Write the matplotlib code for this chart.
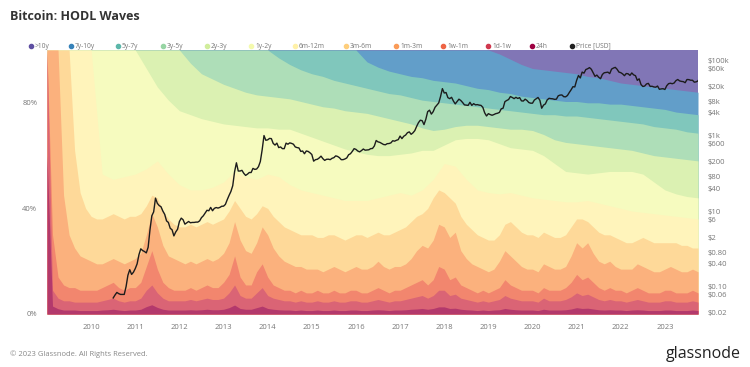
import matplotlib
matplotlib.use("Agg")
import matplotlib.pyplot as plt
import numpy as np

# ---------------- data ----------------
BANDS = ["24h", "1d-1w", "1w-1m", "1m-3m", "3m-6m", "6m-12m",
         "1y-2y", "2y-3y", "3y-5y", "5y-7y", "7y-10y", ">10y"]

# fine grid (every 1.5 months) for the young, spiky bands
T_FINE = 2009.0 + 0.125 * np.arange(119)
# quarterly grid for the older, smoother bands
T_QTR = 2009.0 + 0.25 * np.arange(60)

# cumulative share (%) at the top of each band
TOP_24H = [60, 3, 2, 1.5, 1.5, 1.5, 1.3, 1.3,
           1.3, 1.3, 1.5, 1.6, 1.8, 1.5, 1.3, 1.5,
           1.5, 1.8, 2.8, 3.5, 2.5, 1.8, 1.5, 1.5,
           1.5, 1.5, 1.6, 1.5, 1.6, 1.8, 1.6, 1.6,
           1.8, 2.4, 3.4, 2.1, 1.8, 1.8, 2.4, 3.0,
           2.1, 1.8, 1.6, 1.5, 1.5, 1.3, 1.5, 1.3,
           1.3, 1.5, 1.3, 1.3, 1.5, 1.3, 1.3, 1.5,
           1.5, 1.3, 1.3, 1.5, 1.6, 1.5, 1.3, 1.5,
           1.5, 1.6, 1.8, 1.9, 2.1, 1.8, 2.1, 2.7,
           2.7, 2.1, 2.2, 1.8, 1.6, 1.5, 1.3, 1.5,
           1.3, 1.5, 1.6, 2.1, 1.8, 1.6, 1.5, 1.5,
           1.5, 1.3, 1.8, 1.5, 1.5, 1.5, 1.6, 1.9,
           2.4, 2.1, 2.2, 1.9, 1.6, 1.5, 1.6, 1.5,
           1.5, 1.3, 1.5, 1.6, 1.5, 1.3, 1.3, 1.3,
           1.5, 1.5, 1.3, 1.3, 1.3, 1.5, 1.3]

TOP_1D_1W = [100, 9, 6, 5, 5, 4.5, 4.5, 4.5,
             4.5, 4.5, 5, 5.5, 6, 5, 4.5, 5,
             5, 6, 9, 11, 8, 6, 5, 5,
             5, 5, 5.5, 5, 5.5, 6, 5.5, 5.5,
             6, 8, 11, 7, 6, 6, 8, 10,
             7, 6, 5.5, 5, 5, 4.5, 5, 4.5,
             4.5, 5, 4.5, 4.5, 5, 4.5, 4.5, 5,
             5, 4.5, 4.5, 5, 5.5, 5, 4.5, 5,
             5, 5.5, 6, 6.5, 7, 6, 7, 9,
             9, 7, 7.5, 6, 5.5, 5, 4.5, 5,
             4.5, 5, 5.5, 7, 6, 5.5, 5, 5,
             5, 4.5, 6, 5, 5, 5, 5.5, 6.5,
             8, 7, 7.5, 6.5, 5.5, 5, 5.5, 5,
             5, 4.5, 5, 5.5, 5, 4.5, 4.5, 4.5,
             5, 5, 4.5, 4.5, 4.5, 5, 4.5]

TOP_1W_1M = [100, 30, 14, 11, 10, 10, 9, 9,
             9, 9, 10, 11, 12, 10, 9, 10,
             10, 12, 18, 24, 17, 12, 10, 9,
             9, 9, 10, 9, 10, 11, 10, 10,
             12, 15, 22, 14, 11, 11, 16, 19,
             14, 11, 10, 9, 9, 8, 9, 8,
             8, 9, 8, 8, 9, 8, 8, 9,
             9, 8, 8, 9, 10, 9, 8, 9,
             9, 10, 11, 12, 13, 11, 13, 18,
             17, 13, 14, 11, 10, 9, 8, 9,
             8, 9, 10, 13, 11, 10, 9, 9,
             9, 8, 10, 9, 9, 9, 10, 12,
             15, 13, 14, 12, 10, 9, 10, 9,
             9, 8, 9, 10, 9, 8, 8, 8,
             9, 9, 8, 8, 8, 9, 8]

TOP_1M_3M = [100, 100, 100, 45, 30, 25, 22, 21,
             20, 19, 19, 20, 21, 20, 19, 20,
             21, 23, 30, 38, 33, 26, 22, 21,
             20, 19, 20, 19, 20, 21, 20, 21,
             23, 27, 35, 28, 24, 23, 27, 33,
             30, 25, 22, 20, 19, 18, 18, 17,
             17, 17, 16, 17, 18, 17, 16, 17,
             18, 17, 17, 18, 20, 18, 17, 18,
             18, 19, 21, 24, 26, 25, 28, 34,
             33, 29, 31, 24, 21, 19, 18, 17,
             16, 17, 20, 24, 22, 20, 18, 17,
             17, 16, 19, 18, 17, 17, 18, 22,
             27, 25, 27, 23, 20, 19, 20, 18,
             17, 17, 17, 19, 18, 17, 16, 16,
             17, 18, 17, 16, 16, 17, 16]

TOP_3M_6M = [100, 100, 100, 100, 100, 62, 46, 40,
             37, 36, 36, 37, 38, 37, 36, 37,
             37, 38, 41, 45, 44, 39, 36, 34,
             33, 33, 34, 33, 34, 35, 34, 35,
             36, 39, 43, 40, 37, 36, 38, 41,
             40, 37, 35, 33, 32, 31, 30, 30,
             30, 29, 29, 30, 30, 29, 28, 29,
             30, 30, 29, 30, 31, 30, 30, 31,
             32, 33, 35, 37, 38, 40, 44, 47,
             46, 44, 42, 37, 34, 32, 30, 29,
             28, 28, 30, 34, 35, 33, 31, 30,
             30, 29, 31, 30, 29, 29, 30, 33,
             36, 36, 35, 33, 31, 30, 30, 29,
             28, 27, 27, 28, 29, 28, 27, 27,
             27, 27, 27, 26, 26, 25, 25]

TOP_6M_12M = [100, 100, 100, 100,
              100, 53, 51, 52,
              53, 55, 58, 53,
              49, 47, 47, 48,
              50, 54, 52, 51,
              53, 52, 49, 47,
              46, 45, 44, 43,
              43, 43, 44, 45,
              46, 45, 47, 51,
              57, 56, 51, 47,
              46, 45.5, 46, 45,
              44, 43.5, 43, 42.5,
              42.5, 43, 42, 41,
              40, 39, 38.5, 38,
              37.5, 37, 36.5, 36]

TOP_1Y_2Y = [100, 100, 100, 100,
             100, 100, 100, 100,
             100, 93, 86, 81,
             77, 75.5, 74, 73,
             72, 71.5, 71, 70.5,
             70.5, 70, 70, 68.5,
             67, 65.5, 64, 62.5,
             61.5, 60.5, 60, 60,
             60.5, 61, 62, 62,
             64, 66, 66.5, 66.5,
             66, 64.5, 63, 62.5,
             62, 60, 57, 54,
             53.5, 53, 53.5, 54,
             54, 54, 53, 50,
             47, 45.5, 44.5, 44]

TOP_2Y_3Y = [100] * 12 + [
             100, 95, 91, 89,
             87, 85.5, 84, 83,
             82.5, 82, 81.5, 80.5,
             79.5, 78.5, 78, 77,
             76.5, 76, 75, 74,
             73, 72, 70.5, 69.5,
             70, 71, 71.5, 71.5,
             71, 70.5, 70, 70,
             69.5, 68, 66, 65,
             64.5, 64, 63.5, 63,
             62.5, 62, 61, 60,
             59.5, 59, 58.5, 58]

TOP_3Y_5Y = [100] * 20 + [
             100, 97, 94.5, 92.5,
             91, 90, 88.5, 87.5,
             86.5, 85.5, 84.5, 83.5,
             83, 82, 81, 80.5,
             80, 79.5, 79, 78.5,
             78, 77.5, 77, 76.5,
             76, 75.5, 75.5, 75,
             75, 74.5, 74, 73.5,
             73, 72.5, 72, 71,
             70.5, 70, 69, 68.5]

TOP_5Y_7Y = [100] * 28 + [
             100, 95.5, 93.5, 92,
             91, 90, 89.5, 88.5,
             88, 87.5, 86.5, 85.5,
             85, 84, 83.5, 82.5,
             82, 81.5, 81, 80.5,
             80.5, 80, 80, 79.5,
             79.5, 79, 78.5, 78,
             77.5, 76.5, 76, 75.5]

TOP_7Y_10Y = [100] * 40 + [
              100, 98.5, 96.5, 94.5,
              93, 92.5, 92, 91.5,
              91, 90, 89.5, 88.5,
              87.5, 87, 86.5, 86,
              85.5, 85, 84.5, 84]

# BTC price (USD), twice a month, Jul 2010 .. Oct 2023
PRICE_T = 2010.5 + np.arange(320) / 24.0
PRICE = [
    0.05, 0.06, 0.07, 0.065, 0.062, 0.062, 0.062, 0.10, 0.20, 0.28, 0.21, 0.24,
    0.30, 0.40, 0.70, 1.0, 0.90, 0.85, 0.78, 1.1, 3.2, 7.5, 9.5, 22,
    16, 14, 13, 10, 8.2, 5.5, 5.0, 3.5, 3.2, 2.2, 2.8, 3.3,
    5.3, 6.5, 5.9, 4.5, 4.9, 5.3, 4.9, 5.0, 5.0, 5.1, 5.1, 5.5,
    6.7, 7.5, 8.9, 10.5, 10.2, 12.5, 10.2, 11.8, 12.4, 12.0, 12.5, 13.4,
    13.5, 15, 20, 26, 33, 47, 110, 190, 115, 115, 120, 100,
    88, 95, 105, 105, 135, 127, 130, 150, 205, 420, 1000, 750,
    770, 840, 830, 620, 560, 630, 480, 500, 450, 450, 630, 590,
    640, 620, 590, 500, 480, 470, 380, 390, 330, 390, 380, 350,
    315, 210, 230, 235, 255, 285, 245, 220, 235, 237, 230, 250,
    260, 290, 280, 260, 230, 230, 240, 255, 310, 330, 380, 450,
    430, 390, 370, 400, 440, 410, 415, 420, 450, 455, 530, 740,
    680, 660, 620, 580, 570, 610, 615, 640, 730, 710, 750, 780,
    970, 830, 960, 1030, 1190, 1250, 1080, 1180, 1350, 1750, 2200, 2550,
    2480, 1950, 2700, 4300, 4700, 3700, 4300, 5600, 6400, 7300, 10800, 17500,
    13400, 13800, 10100, 9500, 10300, 8200, 6900, 8000, 9200, 8500, 7500, 6500,
    6400, 6300, 7600, 6300, 7000, 6500, 6600, 6400, 6300, 5600, 4000, 3300,
    3800, 3600, 3450, 3600, 3800, 3900, 4100, 5100, 5300, 7900, 8500, 9000,
    10800, 10200, 9500, 10300, 9600, 10100, 8300, 8200, 9200, 8500, 7500, 7200,
    7200, 8700, 9400, 10200, 8600, 5300, 6400, 6900, 8800, 9700, 9500, 9400,
    9100, 9200, 11300, 11800, 11900, 10700, 10600, 11500, 13800, 16300, 19700, 19400,
    29000, 39000, 33500, 48000, 45000, 56000, 58800, 63000, 57000, 46000, 37000, 40000,
    35000, 32000, 41500, 46000, 47000, 47800, 43800, 57500, 61300, 64000, 57000, 48000,
    46300, 43000, 38500, 44000, 43200, 39200, 45500, 40500, 38500, 29000, 31800, 22500,
    19900, 20500, 23300, 24100, 20000, 20200, 19400, 19100, 20500, 16800, 17200, 17400,
    16600, 20900, 23700, 24300, 23600, 24600, 28500, 30500, 28000, 27200, 26800, 25100,
    30500, 30300, 29200, 29200, 25900, 26500, 28000, 34500]

PRICE_TICKS = [100000, 60000, 20000, 8000, 4000, 1000, 600, 200, 80, 40,
               10, 6, 2, 0.8, 0.4, 0.1, 0.06, 0.02]
PRICE_LABELS = ["$100k", "$60k", "$20k", "$8k", "$4k", "$1k", "$600", "$200",
                "$80", "$40", "$10", "$6", "$2", "$0.80", "$0.40", "$0.10",
                "$0.06", "$0.02"]
PCT_TICKS = [0, 40, 80]
PCT_LABELS = ["0%", "40%", "80%"]
YEARS = list(range(2010, 2024))

# ---------------- style ----------------
plt.rcParams["font.family"] = ["Open Sans", "DejaVu Sans"]
base = plt.cm.Spectral(np.linspace(0, 1, 12))[:, :3]
fill_cols = base * 0.78 + 0.22          # softened, opaque
grey = "#777777"

W, H = 750, 367
fig = plt.figure(figsize=(W / 100, H / 100), dpi=100)
ax = fig.add_axes([47 / W, (H - 314) / H, 651 / W, 264 / H])

tops = [(T_FINE, TOP_24H), (T_FINE, TOP_1D_1W), (T_FINE, TOP_1W_1M),
        (T_FINE, TOP_1M_3M), (T_FINE, TOP_3M_6M), (T_QTR, TOP_6M_12M),
        (T_QTR, TOP_1Y_2Y), (T_QTR, TOP_2Y_3Y), (T_QTR, TOP_3Y_5Y),
        (T_QTR, TOP_5Y_7Y), (T_QTR, TOP_7Y_10Y)]

# oldest band fills the whole column, younger ones are painted over it
ax.fill_between(T_QTR, 0, 100, color=fill_cols[11], lw=0)
for k in range(10, -1, -1):
    t, v = tops[k]
    ax.fill_between(t, 0, v, color=fill_cols[k], lw=0)

ax.set_xlim(2009.0, 2023.75)
ax.set_ylim(0, 100)
ax.set_xticks(YEARS)
ax.set_xticklabels([str(y) for y in YEARS])
ax.set_yticks(PCT_TICKS)
ax.set_yticklabels(PCT_LABELS)
ax.tick_params(length=0, labelsize=5.5, labelcolor=grey)
ax.tick_params(axis="x", pad=7)
ax.tick_params(axis="y", pad=7)
for s in ax.spines.values():
    s.set_visible(False)

ax2 = ax.twinx()
ax2.set_yscale("log")
ax2.plot(PRICE_T, PRICE, color="#1c1c1c", lw=1.0)
ax2.set_xlim(2009.0, 2023.75)
ax2.set_ylim(10 ** -1.726, 10 ** 5.266)
ax2.set_yticks(PRICE_TICKS)
ax2.set_yticklabels(PRICE_LABELS)
ax2.minorticks_off()
ax2.tick_params(length=0, labelsize=5.5, labelcolor=grey, pad=7)
for s in ax2.spines.values():
    s.set_visible(False)

# title
fig.text(10 / W, 1 - 16 / H, "Bitcoin: HODL Waves", fontsize=9,
         fontweight="bold", color="#333333", va="center", ha="left")

# legend
leg_names = [">10y", "7y-10y", "5y-7y", "3y-5y", "2y-3y", "1y-2y", "6m-12m",
             "3m-6m", "1m-3m", "1w-1m", "1d-1w", "24h", "Price [USD]"]
leg_cols = [base[11 - i] for i in range(12)] + [np.array([0.13, 0.13, 0.13])]
leg_x = [31, 71, 118, 163, 207, 251, 295, 346, 396, 443, 488, 532, 572]
ly = 1 - 46 / H
for name, c, x in zip(leg_names, leg_cols, leg_x):
    fig.lines.append(plt.Line2D([x / W], [ly], marker="o", markersize=3,
                                color=c, lw=0, transform=fig.transFigure))
    fig.text((x + 4) / W, ly, name, fontsize=4.8, color=grey,
             va="center", ha="left")

# footer
fig.text(10 / W, 1 - 354 / H, "\u00a9 2023 Glassnode. All Rights Reserved.",
         fontsize=5.5, color="#888888", va="center", ha="left")
fig.text(741 / W, 1 - 354 / H, "glassnode", fontsize=11.5, color="#222222",
         va="center", ha="right")

fig.savefig("out.png", dpi=100)
